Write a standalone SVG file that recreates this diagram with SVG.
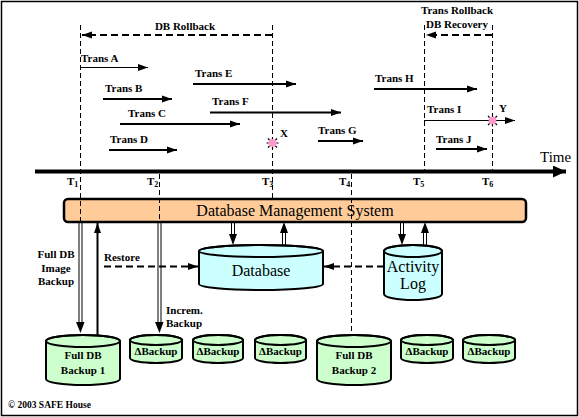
<svg xmlns="http://www.w3.org/2000/svg" width="579" height="417" viewBox="0 0 579 417" font-family="'Liberation Serif', 'DejaVu Serif', serif">
<style>
text{font-family:'Liberation Serif','DejaVu Serif',serif;fill:#000}
.lb{font-size:11px;font-weight:bold}
.big{font-size:16px}
.dash{stroke:#000;stroke-width:1;stroke-dasharray:5,3;fill:none}
.tr{stroke:#000;stroke-width:2;fill:none}
.thin{stroke:#000;stroke-width:1;fill:none}
.dbl{stroke:#000;stroke-width:1;fill:none}
.cyl{stroke:#000;stroke-width:2}
.blue{fill:#CCFFFF}
.green{fill:#CCFFCC}
</style>
<defs>
<marker id="ah" markerUnits="userSpaceOnUse" markerWidth="11" markerHeight="8" refX="10" refY="4" orient="auto">
<path d="M0,0.5 L10,4 L0,7.5 z" fill="#000"/>
</marker>
<marker id="big" markerUnits="userSpaceOnUse" markerWidth="14" markerHeight="12" refX="13" refY="6" orient="auto">
<path d="M0,0 L13,6 L0,12 z" fill="#000"/>
</marker>
</defs>
<rect x="1.5" y="1.5" width="576" height="414" fill="#fff" stroke="#000" stroke-width="1.5"/>

<g id="timeline">
<line x1="35" y1="171.5" x2="566" y2="171.5" stroke="#000" stroke-width="4" marker-end="url(#big)"/>
<text x="540" y="162" font-size="15">Time</text>
<text class="lb" x="67" y="185">T<tspan font-size="8" dy="2">1</tspan></text>
<text class="lb" x="147" y="185">T<tspan font-size="8" dy="2">2</tspan></text>
<text class="lb" x="262" y="185">T<tspan font-size="8" dy="2">3</tspan></text>
<text class="lb" x="339" y="185">T<tspan font-size="8" dy="2">4</tspan></text>
<text class="lb" x="413" y="185">T<tspan font-size="8" dy="2">5</tspan></text>
<text class="lb" x="482" y="185">T<tspan font-size="8" dy="2">6</tspan></text>
</g>

<g id="dbms">
<rect x="64" y="199" width="462" height="23" rx="4" fill="#FFCC99" stroke="#000" stroke-width="2.5"/>
<text class="big" x="295" y="216" text-anchor="middle">Database Management System</text>
</g>

<g id="connectors">
<line class="dash" x1="80.5" y1="25" x2="80.5" y2="222"/>
<line class="dash" x1="159.5" y1="174" x2="159.5" y2="222"/>
<line class="dash" x1="272.5" y1="25" x2="272.5" y2="199"/>
<line class="dash" x1="351.5" y1="174" x2="351.5" y2="335"/>
<line class="dash" x1="424.5" y1="25" x2="424.5" y2="170"/>
<line class="dash" x1="492.5" y1="25" x2="492.5" y2="170"/>
<line x1="272" y1="35" x2="82" y2="35" stroke="#000" stroke-width="2" stroke-dasharray="7,4" marker-end="url(#ah)"/>
<line x1="492" y1="35" x2="426" y2="35" stroke="#000" stroke-width="2" stroke-dasharray="7,4" marker-end="url(#ah)"/>
<line class="thin" x1="80" y1="67.5" x2="148" y2="67.5" marker-end="url(#ah)"/>
<line class="tr" x1="193" y1="84" x2="296" y2="84" marker-end="url(#ah)"/>
<line class="tr" x1="103" y1="99" x2="172" y2="99" marker-end="url(#ah)"/>
<line class="tr" x1="210" y1="112.5" x2="341" y2="112.5" marker-end="url(#ah)"/>
<line class="tr" x1="120" y1="124" x2="240" y2="124" marker-end="url(#ah)"/>
<line class="tr" x1="109" y1="150" x2="177" y2="150" marker-end="url(#ah)"/>
<line class="tr" x1="318" y1="141" x2="363" y2="141" marker-end="url(#ah)"/>
<line class="tr" x1="374" y1="89" x2="477" y2="89" marker-end="url(#ah)"/>
<line class="thin" x1="424" y1="120.5" x2="515" y2="120.5" marker-end="url(#ah)"/>
<line class="tr" x1="436" y1="149" x2="487" y2="149" marker-end="url(#ah)"/>
<line class="dbl" x1="79" y1="222" x2="79" y2="324"/><line class="dbl" x1="82" y1="222" x2="82" y2="324"/>
<path d="M76,322 L84.5,322 L80.5,333 z" fill="#000"/>
<line x1="97.5" y1="335" x2="97.5" y2="223" stroke="#000" stroke-width="2" marker-end="url(#ah)"/>
<line class="dbl" x1="158" y1="222" x2="158" y2="324"/><line class="dbl" x1="161" y1="222" x2="161" y2="324"/>
<path d="M155,322 L163.5,322 L159.5,333 z" fill="#000"/>
<line x1="104" y1="266.5" x2="198" y2="266.5" stroke="#000" stroke-width="2" stroke-dasharray="7,4" marker-end="url(#ah)"/>
<line x1="384" y1="266.5" x2="324" y2="266.5" stroke="#000" stroke-width="2" stroke-dasharray="7,4" marker-end="url(#ah)"/>
<line class="dbl" x1="231.5" y1="222" x2="231.5" y2="236"/><line class="dbl" x1="234.5" y1="222" x2="234.5" y2="236"/>
<path d="M229,234 L237,234 L233,245 z" fill="#000"/>
<line class="dbl" x1="282.5" y1="245" x2="282.5" y2="231"/><line class="dbl" x1="285.5" y1="245" x2="285.5" y2="231"/>
<path d="M280,233 L288,233 L284,222 z" fill="#000"/>
<line class="dbl" x1="400.5" y1="222" x2="400.5" y2="236"/><line class="dbl" x1="403.5" y1="222" x2="403.5" y2="236"/>
<path d="M398,234 L406,234 L402,245 z" fill="#000"/>
<line class="dbl" x1="423.5" y1="245" x2="423.5" y2="231"/><line class="dbl" x1="426.5" y1="245" x2="426.5" y2="231"/>
<path d="M421,233 L429,233 L425,222 z" fill="#000"/>
</g>

<g id="labels">
<text class="lb" x="185" y="30" text-anchor="middle">DB Rollback</text>
<text class="lb" x="457" y="14" text-anchor="middle">Trans Rollback</text>
<text class="lb" x="457" y="28" text-anchor="middle">DB Recovery</text>
<text class="lb" x="81" y="62">Trans A</text>
<text class="lb" x="195" y="77">Trans E</text>
<text class="lb" x="105" y="92">Trans B</text>
<text class="lb" x="212" y="105">Trans F</text>
<text class="lb" x="128" y="117">Trans C</text>
<text class="lb" x="110" y="143">Trans D</text>
<text class="lb" x="318" y="134">Trans G</text>
<text class="lb" x="375" y="82">Trans H</text>
<text class="lb" x="427" y="113">Trans I</text>
<text class="lb" x="436" y="143">Trans J</text>
<text class="lb" x="280" y="137">X</text>
<text class="lb" x="499" y="112">Y</text>
<text class="lb" x="56" y="258" text-anchor="middle">Full DB</text>
<text class="lb" x="56" y="271.5" text-anchor="middle">Image</text>
<text class="lb" x="56" y="285" text-anchor="middle">Backup</text>
<text class="lb" x="104" y="261">Restore</text>
<text class="lb" x="166" y="314">Increm.</text>
<text class="lb" x="166" y="327">Backup</text>
<text x="8" y="408" font-size="9.5" font-weight="bold">© 2003 SAFE House</text>
</g>

<g id="failX">
<circle cx="272.5" cy="143" r="4" fill="#FF99CC"/>
<path d="M272.5,137 V139 M272.5,147 V149 M266.5,143 H268.5 M276.5,143 H278.5 M268,138.5 l1.5,1.5 M277,138.5 l-1.5,1.5 M268,147.5 l1.5,-1.5 M277,147.5 l-1.5,-1.5" stroke="#000" stroke-width="1.2"/>
</g>
<g id="failY">
<circle cx="492.5" cy="120.5" r="4" fill="#FF99CC"/>
<path d="M492.5,114.5 V116.5 M492.5,124.5 V126.5 M486.5,120.5 H488.5 M496.5,120.5 H498.5 M488,116 l1.5,1.5 M497,116 l-1.5,1.5 M488,125 l1.5,-1.5 M497,125 l-1.5,-1.5" stroke="#000" stroke-width="1.2"/>
</g>

<g id="database">
<path class="cyl blue" d="M199,251 A62,6 0 0 1 323,251 V284 A62,6 0 0 1 199,284 Z"/>
<ellipse cx="261" cy="251" rx="62" ry="6" fill="none" stroke="#000" stroke-width="2"/>
<text class="big" x="261" y="276" text-anchor="middle">Database</text>
</g>

<g id="activitylog">
<path class="cyl blue" d="M384,251 A29,6 0 0 1 442,251 V294 A29,6 0 0 1 384,294 Z"/>
<ellipse cx="413" cy="251" rx="29" ry="6" fill="none" stroke="#000" stroke-width="2"/>
<text class="big" x="413" y="272" text-anchor="middle">Activity</text>
<text class="big" x="413" y="289" text-anchor="middle">Log</text>
</g>

<g id="fullbackup1">
<path class="cyl green" d="M46,341 A37,6 0 0 1 120,341 V379 A37,6 0 0 1 46,379 Z"/>
<ellipse cx="83" cy="341" rx="37" ry="6" fill="none" stroke="#000" stroke-width="2"/>
<text class="lb" x="83" y="359" text-anchor="middle">Full DB</text>
<text class="lb" x="83" y="374" text-anchor="middle">Backup 1</text>
</g>

<g id="incbackup1">
<path class="cyl green" d="M130,340 A26,5 0 0 1 182,340 V358 A26,5 0 0 1 130,358 Z"/>
<ellipse cx="156" cy="340" rx="26" ry="5" fill="none" stroke="#000" stroke-width="2"/>
<text class="lb" x="156" y="355" text-anchor="middle">ΔBackup</text>
</g>
<g id="incbackup2">
<path class="cyl green" d="M193,340 A25,5 0 0 1 243,340 V358 A25,5 0 0 1 193,358 Z"/>
<ellipse cx="218" cy="340" rx="25" ry="5" fill="none" stroke="#000" stroke-width="2"/>
<text class="lb" x="218" y="355" text-anchor="middle">ΔBackup</text>
</g>
<g id="incbackup3">
<path class="cyl green" d="M255,340 A25.5,5 0 0 1 306,340 V358 A25.5,5 0 0 1 255,358 Z"/>
<ellipse cx="280.5" cy="340" rx="25.5" ry="5" fill="none" stroke="#000" stroke-width="2"/>
<text class="lb" x="280.5" y="355" text-anchor="middle">ΔBackup</text>
</g>

<g id="fullbackup2">
<path class="cyl green" d="M317,341 A37,6 0 0 1 391,341 V379 A37,6 0 0 1 317,379 Z"/>
<ellipse cx="354" cy="341" rx="37" ry="6" fill="none" stroke="#000" stroke-width="2"/>
<text class="lb" x="354" y="359" text-anchor="middle">Full DB</text>
<text class="lb" x="354" y="374" text-anchor="middle">Backup 2</text>
</g>

<g id="incbackup4">
<path class="cyl green" d="M401,340 A26,5 0 0 1 453,340 V358 A26,5 0 0 1 401,358 Z"/>
<ellipse cx="427" cy="340" rx="26" ry="5" fill="none" stroke="#000" stroke-width="2"/>
<text class="lb" x="427" y="355" text-anchor="middle">ΔBackup</text>
</g>
<g id="incbackup5">
<path class="cyl green" d="M463,340 A26,5 0 0 1 515,340 V358 A26,5 0 0 1 463,358 Z"/>
<ellipse cx="489" cy="340" rx="26" ry="5" fill="none" stroke="#000" stroke-width="2"/>
<text class="lb" x="489" y="355" text-anchor="middle">ΔBackup</text>
</g>
</svg>
